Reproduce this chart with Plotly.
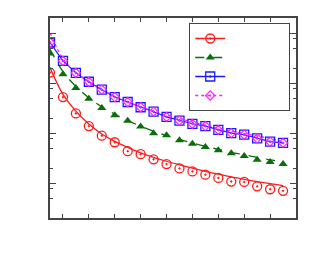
import plotly.graph_objects as go

# x positions (iteration index)
x_vals = list(range(1, 20))

# measured data points (markers)
red_pts = [0.1667, 0.0540, 0.0254, 0.01420, 0.00913, 0.00676, 0.00448, 0.00391, 0.00308, 0.00248,
           0.00203, 0.00177, 0.00152, 0.00131, 0.00111, 0.00109, 0.000891, 0.000778, 0.000723]
green_pts = [0.402, 0.154, 0.0815, 0.0502, 0.0327, 0.0235, 0.0182, 0.0140, 0.0102, 0.00929,
             0.00740, 0.00634, 0.00545, 0.00469, 0.00409, 0.00357, 0.00301, 0.00271, 0.00248]
blue_pts = [0.663, 0.284, 0.164, 0.109, 0.0757, 0.0540, 0.0430, 0.0338, 0.0275, 0.0217,
            0.0182, 0.0158, 0.0142, 0.0119, 0.0103, 0.00955, 0.00811, 0.00695, 0.00654]
magenta_pts = [0.663, 0.284, 0.164, 0.109, 0.0757, 0.0540, 0.0430, 0.0338, 0.0275, 0.0217,
               0.0182, 0.0158, 0.0142, 0.0119, 0.0103, 0.00955, 0.00811, 0.00695, 0.00654]

# fitted curves
red_fit = [0.2094, 0.0611, 0.0282, 0.01557, 0.00986, 0.00701, 0.00533, 0.00415, 0.00338, 0.00282,
           0.00240, 0.00206, 0.00178, 0.00156, 0.00137, 0.00123, 0.00111, 0.00101, 0.000921]
green_fit = [0.486, 0.1745, 0.0880, 0.0521, 0.0346, 0.0246, 0.01825, 0.01420, 0.01130, 0.00921,
             0.00767, 0.00654, 0.00558, 0.00487, 0.00425, 0.00379, 0.00338, 0.00301, 0.00275]
magenta_fit = [1.032, 0.3155, 0.1667, 0.1081, 0.0767, 0.0558, 0.0434, 0.0346, 0.0282, 0.0235,
               0.0200, 0.0171, 0.01487, 0.01297, 0.01130, 0.01009, 0.00900, 0.00803, 0.00685]

x_ticks = [2, 4, 6, 8, 10, 12, 14, 16, 18]
y_major = [1e-3, 1e-2, 1e-1, 1]
y_minor = [m * d for d in [1e-4, 1e-3, 1e-2, 1e-1, 1] for m in (2, 5, 8)]

RED, GREEN, BLUE, MAG = "#ff1a1a", "#0a6e0a", "#1a1aff", "#ff22ff"
blank = "\u00a0" * 24

fig = go.Figure()

# fitted lines
fig.add_trace(go.Scatter(x=x_vals, y=red_fit, mode="lines", line=dict(color=RED, width=1.3, shape="spline"),
                         showlegend=False, hoverinfo="skip"))
fig.add_trace(go.Scatter(x=x_vals, y=green_fit, mode="lines",
                         line=dict(color=GREEN, width=1.3, dash="dash", shape="spline"),
                         showlegend=False, hoverinfo="skip"))
fig.add_trace(go.Scatter(x=x_vals, y=blue_pts, mode="lines", line=dict(color=BLUE, width=1.2),
                         showlegend=False, hoverinfo="skip"))
fig.add_trace(go.Scatter(x=x_vals, y=magenta_fit, mode="lines",
                         line=dict(color=MAG, width=1.3, dash="dot", shape="spline"),
                         showlegend=False, hoverinfo="skip"))

# markers
red_m = dict(symbol="circle-open-dot", size=9, color=RED, line=dict(width=1.3, color=RED))
green_m = dict(symbol="triangle-up", size=8, color=GREEN)
blue_m = dict(symbol="square-open-dot", size=9, color=BLUE, line=dict(width=1.3, color=BLUE))
mag_m = dict(symbol="diamond-open-dot", size=7, color=MAG, line=dict(width=1.2, color=MAG))

fig.add_trace(go.Scatter(x=x_vals, y=red_pts, mode="markers", marker=red_m, showlegend=False))
fig.add_trace(go.Scatter(x=x_vals, y=green_pts, mode="markers", marker=green_m, showlegend=False))
fig.add_trace(go.Scatter(x=x_vals, y=blue_pts, mode="markers", marker=blue_m, showlegend=False))
fig.add_trace(go.Scatter(x=x_vals, y=magenta_pts, mode="markers", marker=mag_m, showlegend=False))

# legend-only entries (line + marker)
for m, ln in [(red_m, dict(color=RED, width=1.3)),
              (green_m, dict(color=GREEN, width=1.3, dash="dash")),
              (blue_m, dict(color=BLUE, width=1.3)),
              (mag_m, dict(color=MAG, width=1.3, dash="dot"))]:
    fig.add_trace(go.Scatter(x=[None], y=[None], mode="lines+markers", name=blank, marker=m, line=ln))

axis_common = dict(showline=True, linecolor="#444", linewidth=1.5, mirror="ticks", ticks="inside",
                   tickcolor="#444", showticklabels=False, showgrid=False, zeroline=False)

fig.update_xaxes(range=[1, 20], tickvals=x_ticks, ticklen=4, **axis_common)
fig.update_yaxes(type="log", range=[-3.683, 0.311], tickvals=y_major, ticklen=6,
                 minor=dict(tickvals=y_minor, ticks="inside", ticklen=3, tickcolor="#444"),
                 **axis_common)

# page body has an 8px margin, so the figure is offset by 8px
fig.update_layout(
    width=305, height=255,
    margin=dict(l=42, r=17, t=8, b=45),
    paper_bgcolor="white", plot_bgcolor="white",
    showlegend=True,
    legend=dict(x=0.566, y=0.975, xanchor="left", yanchor="top", bgcolor="white",
                bordercolor="#444", borderwidth=1, font=dict(size=8, family="Liberation Sans"),
                itemwidth=30, tracegroupgap=0),
)

fig.write_html("out.html")
